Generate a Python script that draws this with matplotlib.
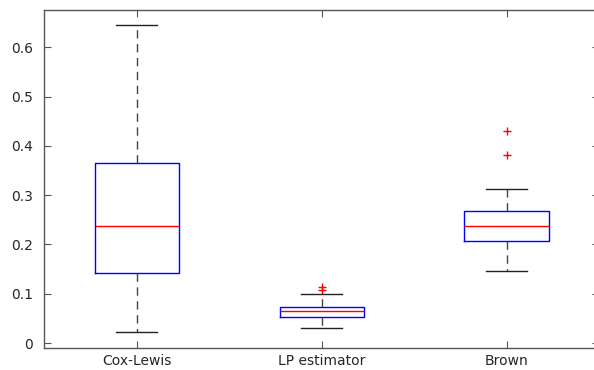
import matplotlib.pyplot as plt

# Box statistics for each estimator
methods = ["Cox-Lewis", "LP estimator", "Brown"]
whisker_low = [0.022, 0.030, 0.147]
q1 = [0.143, 0.053, 0.207]
median = [0.237, 0.064, 0.237]
q3 = [0.366, 0.073, 0.268]
whisker_high = [0.645, 0.100, 0.312]
outliers = [[], [0.108, 0.113], [0.381, 0.430]]

stats = []
for i, name in enumerate(methods):
    stats.append({
        "label": name,
        "whislo": whisker_low[i],
        "q1": q1[i],
        "med": median[i],
        "q3": q3[i],
        "whishi": whisker_high[i],
        "fliers": outliers[i],
    })

plt.rcParams["font.family"] = ["DejaVu Sans"]

fig = plt.figure(figsize=(5.94, 3.70), dpi=100)
ax = fig.add_axes([44.3 / 594, 1 - 347.5 / 370, (599 - 44.3) / 594, (347.5 - 10.2) / 370])

ax.bxp(
    stats,
    widths=0.455,
    boxprops=dict(color="#0000ff", linewidth=1.0),
    medianprops=dict(color="#ff0000", linewidth=1.0),
    whiskerprops=dict(color="#444444", linewidth=1.0, linestyle=(0, (6, 4))),
    capprops=dict(color="#222222", linewidth=1.0),
    capwidths=0.22,
    flierprops=dict(marker="+", markeredgecolor="#ff0000", markersize=6, linestyle="none"),
)

ax.set_xlim(0.5, 3.5)
ax.set_ylim(-0.0091, 0.6753)
ax.set_yticks([0, 0.1, 0.2, 0.3, 0.4, 0.5, 0.6])
ax.set_yticklabels(["0", "0.1", "0.2", "0.3", "0.4", "0.5", "0.6"])

for s in ax.spines.values():
    s.set_color("#555555")
    s.set_linewidth(1.0)
ax.tick_params(direction="in", length=5, width=0.8, color="#555555",
               labelsize=10, labelcolor="#262626",
               top=True, right=True)
ax.tick_params(axis="y", pad=8)
ax.tick_params(axis="x", pad=5)

fig.savefig("out.png", dpi=100)
